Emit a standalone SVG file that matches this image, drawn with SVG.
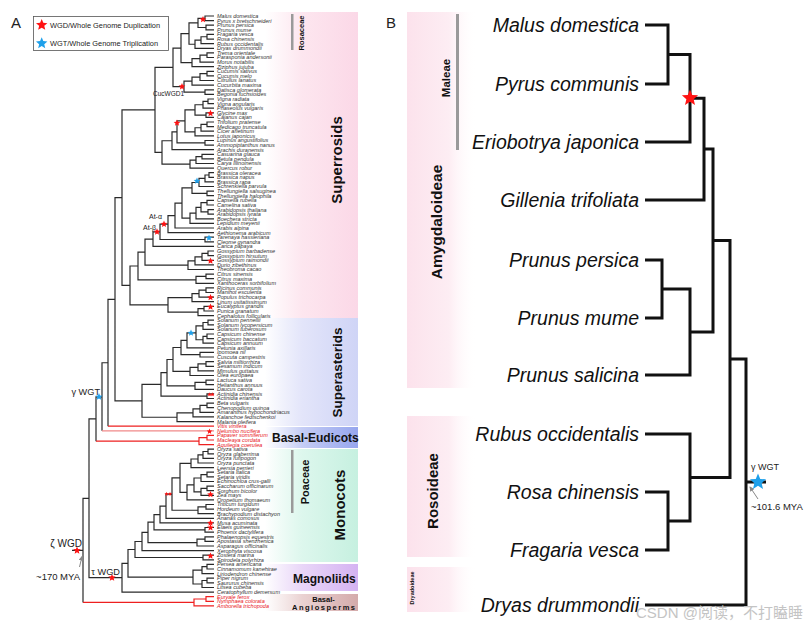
<svg xmlns="http://www.w3.org/2000/svg" width="811" height="631" viewBox="0 0 811 631">
<style>
.t{font-family:"Liberation Sans",Arial,sans-serif;font-style:italic;font-size:5.5px;fill:#333}
.tr{fill:#e8151b}
.br{fill:none;stroke:#2a2a2a;stroke-width:1.2}
.rd{fill:none;stroke:#ee2020;stroke-width:1.2}
.pk{fill:none;stroke:#f08a8a;stroke-width:1.2}
.bb{fill:none;stroke:#111;stroke-width:3}
.lab{font-family:"Liberation Sans",Arial,sans-serif;fill:#222}
.bold{font-family:"Liberation Sans",Arial,sans-serif;font-weight:bold;fill:#111}
.tb{font-family:"Liberation Sans",Arial,sans-serif;font-style:italic;font-size:19.5px;fill:#111;text-anchor:end}
.sr{fill:#ff1212}
.sb{fill:#1fa0ea}
.bar{fill:#9a9a9a}
.arr{stroke:#888;stroke-width:1;fill:none}
</style>
<defs>
<path id="st" d="M0,-1 L0.2645,-0.364 L0.951,-0.309 L0.428,0.139 L0.588,0.809 L0,0.45 L-0.588,0.809 L-0.428,0.139 L-0.951,-0.309 L-0.2645,-0.364 Z"/>
<marker id="ah" viewBox="0 0 6 6" refX="5" refY="3" markerWidth="5" markerHeight="5" orient="auto"><path d="M0,0 L6,3 L0,6 Z" fill="#888"/></marker>
<linearGradient id="gPink"><stop offset="0" stop-color="#fde6ef" stop-opacity="0"/><stop offset="0.4" stop-color="#fde6ef"/><stop offset="1" stop-color="#fbd8e7"/></linearGradient>
<linearGradient id="gLav"><stop offset="0" stop-color="#dfe2f8" stop-opacity="0"/><stop offset="0.4" stop-color="#e3e5fa"/><stop offset="1" stop-color="#cfd4f6"/></linearGradient>
<linearGradient id="gBlue"><stop offset="0" stop-color="#c8d0f6" stop-opacity="0"/><stop offset="0.4" stop-color="#c5cdf5"/><stop offset="1" stop-color="#96a6ee"/></linearGradient>
<linearGradient id="gGreen"><stop offset="0" stop-color="#d8f6ea" stop-opacity="0"/><stop offset="0.4" stop-color="#ddf7ed"/><stop offset="1" stop-color="#c6f0e0"/></linearGradient>
<linearGradient id="gPurp"><stop offset="0" stop-color="#e6d2f6" stop-opacity="0"/><stop offset="0.4" stop-color="#e9d6f8"/><stop offset="1" stop-color="#d5b3f2"/></linearGradient>
<linearGradient id="gBrown"><stop offset="0" stop-color="#ecd6d6" stop-opacity="0"/><stop offset="0.4" stop-color="#ead2d2"/><stop offset="1" stop-color="#d4abab"/></linearGradient>
<linearGradient id="gPinkB"><stop offset="0" stop-color="#fce2ec"/><stop offset="0.6" stop-color="#fdedf3"/><stop offset="1" stop-color="#ffffff" stop-opacity="0"/></linearGradient>
</defs>
<rect width="811" height="631" fill="#fff"/>

<g id="bands-A">
<rect x="265" y="12" width="93" height="306" fill="url(#gPink)"/>
<rect x="265" y="318" width="93" height="108" fill="url(#gLav)"/>
<rect x="265" y="427" width="93" height="21" fill="url(#gBlue)"/>
<rect x="265" y="449" width="93" height="113" fill="url(#gGreen)"/>
<rect x="265" y="564" width="93" height="27" fill="url(#gPurp)"/>
<rect x="265" y="594" width="93" height="17" fill="url(#gBrown)"/>
<rect class="bar" x="291" y="14" width="2.5" height="36"/>
<rect class="bar" x="291" y="450" width="2.5" height="63"/>
<text class="bold" font-size="7.5" text-anchor="middle" transform="translate(303.5,33) rotate(-90)">Rosaceae</text>
<text class="bold" font-size="11" text-anchor="middle" transform="translate(309,482) rotate(-90)">Poaceae</text>
<text class="bold" font-size="15" text-anchor="middle" transform="translate(342,160) rotate(-90)">Superrosids</text>
<text class="bold" font-size="13.5" text-anchor="middle" transform="translate(342,372.5) rotate(-90)">Superasterids</text>
<text class="bold" font-size="15" text-anchor="middle" transform="translate(345,505) rotate(-90)">Monocots</text>
<text class="bold" font-size="12" x="272" y="441.5">Basal-Eudicots</text>
<text class="bold" font-size="12" x="293" y="583">Magnoliids</text>
<text class="bold" font-size="7.5" x="323.5" y="602" text-anchor="middle">Basal-</text>
<text class="bold" font-size="7.5" x="292" y="610" textLength="63" lengthAdjust="spacing">Angiosperms</text>
</g>

<g id="bands-B">
<rect x="407" y="12" width="70" height="376" fill="url(#gPinkB)"/>
<rect x="407" y="416" width="70" height="141" fill="url(#gPinkB)"/>
<rect x="407" y="567" width="70" height="45" fill="url(#gPinkB)"/>
<rect class="bar" x="456" y="14" width="3" height="136"/>
<text class="bold" font-size="11.5" text-anchor="middle" transform="translate(450,78) rotate(-90)">Maleae</text>
<text class="bold" font-size="15.5" text-anchor="middle" transform="translate(442,222) rotate(-90)">Amygdaloideae</text>
<text class="bold" font-size="15" text-anchor="middle" transform="translate(438,491) rotate(-90)">Rosoideae</text>
<text class="bold" font-size="5.5" text-anchor="middle" transform="translate(414,588) rotate(-90)">Dryadoideae</text>
</g>

<g id="panel-labels">
<text class="lab" x="11" y="28" font-size="15">A</text>
<text class="lab" x="386" y="28" font-size="15">B</text>
</g>

<g id="legend">
<rect x="33.5" y="16.5" width="135" height="34" fill="#fff" stroke="#555" stroke-width="0.8"/>
<use href="#st" transform="translate(41.7,25) scale(6)" class="sr"/>
<text class="lab" x="50" y="27.6" font-size="7.4">WGD/Whole Genome Duplication</text>
<use href="#st" transform="translate(41.7,43.3) scale(6)" class="sb"/>
<text class="lab" x="50" y="46" font-size="7.4">WGT/Whole Genome Triplication</text>
</g>

<g id="connectors-A">
<path class="br" d="M214,16 H205 V20.6 H214 M214,25.2 H206 V29.8 H214 M205,18.3 H198 V27.5 H206 M214,34.4 H207 V39.1 H214 M207,36.75 H201 V43.7 H214 M201,40.2 H195 V48.3 H214 M198,22.9 H189 V44.25 H195 M214,52.9 H207 V57.5 H214 M207,55.2 H200 V62.1 H214 M200,58.65 H192 V66.7 H214 M189,33.6 H181 V62.7 H192 M214,71.3 H207 V75.9 H214 M207,73.6 H200 V80.5 H214 M200,77.05 H192 V85.2 H214 M214,89.8 H205 V94.4 H214 M192,81.1 H184 V92.1 H205 M181,48.1 H173 V86.6 H184"/>
<path class="br" d="M214,99 H208 V103.6 H214 M208,101.3 H203 V108.2 H214 M214,112.8 H206 V117.4 H214 M203,104.75 H195 V115.1 H206 M214,122 H207 V126.6 H214 M207,124.3 H201 V131.2 H214 M201,127.75 H195 V135.8 H214 M195,109.9 H185 V131.8 H195 M214,140.5 H205 V145.1 H214 M185,120.85 H177 V142.8 H205 M177,131.8 H172 V149.7 H214 M214,154.3 H202 V158.9 H214 M202,156.6 H196 V163.5 H214 M196,160.05 H190 V168.1 H214 M172,140.75 H162 V164.08 H190 M173,67.35 H155 V152.4 H162"/>
<path class="br" d="M214,172.7 H209 V177.3 H214 M209,175 H205 V181.9 H214 M205,178.45 H199 V186.5 H214 M214,191.1 H207 V195.7 H214 M199,182.5 H192 V193.4 H207 M214,200.4 H207 V205 H214 M214,209.6 H208 V214.2 H214 M207,202.7 H201 V211.9 H208 M201,207.3 H196 V218.8 H214 M196,213.05 H190 V223.4 H214 M192,187.95 H182 V218.2 H190 M182,203.1 H175 V228 H214 M175,215.55 H168 V232.6 H214 M214,237.2 H205 V241.8 H214 M168,224.1 H160 V239.5 H205 M160,231.8 H153 V246.4 H214 M214,251 H208 V255.7 H214 M208,253.35 H202 V260.3 H214 M202,256.8 H195 V264.9 H214 M195,260.85 H188 V269.5 H214 M153,239.1 H145 V265.2 H188 M214,274.1 H206 V278.7 H214 M206,276.4 H196 V283.3 H214 M145,252.15 H138 V279.85 H196 M214,287.9 H206 V292.5 H214 M206,290.2 H199 V297.1 H214 M199,293.65 H192 V301.7 H214 M214,306.3 H204 V311 H214 M204,308.65 H198 V315.6 H214 M192,297.7 H168 V312.1 H198 M138,266 H130 V304.9 H168 M155,109.9 H122 V285.45 H130"/>
<path class="br" d="M214,320.2 H208 V324.8 H214 M208,322.5 H203 V329.4 H214 M214,334 H207 V338.6 H214 M207,336.3 H203 V343.2 H214 M203,325.95 H196 V339.75 H203 M196,332.85 H187 V347.8 H214 M214,352.4 H200 V357 H214 M187,340.3 H181 V354.7 H200 M214,361.6 H206 V366.3 H214 M206,363.95 H198 V370.9 H214 M198,367.4 H190 V375.5 H214 M181,347.5 H173 V371.45 H190 M214,380.1 H206 V384.7 H214 M206,382.4 H195 V389.3 H214 M173,359.5 H167 V385.85 H195 M214,393.9 H207 V398.5 H214 M167,372.7 H161 V396.2 H207 M214,403.1 H207 V407.7 H214 M207,405.4 H200 V412.3 H214 M200,408.85 H193 V416.9 H214 M193,412.9 H177 V421.6 H214 M161,384.45 H142 V417.25 H177 M122,197.7 H115 V400.85 H142 M115,299.3 H108 V426.2 M108,362.75 H102 V430.8 M102,396.8 H96 V441.15"/>
<path class="rd" d="M108,426.2 H214 M96,441.15 H199 M214,435.4 H207 V440 H214 M207,437.7 H199 V444.6 H214"/>
<path class="pk" d="M102,430.8 H214"/>
<path class="br" d="M214,449.2 H208 V453.8 H214 M208,451.5 H203 V458.4 H214 M203,454.95 H198 V463 H214 M198,458.98 H191 V467.6 H214 M214,472.2 H207 V476.9 H214 M207,474.55 H201 V481.5 H214 M214,486.1 H207 V490.7 H214 M207,488.4 H201 V495.3 H214 M201,478 H194 V491.85 H201 M194,484.9 H187 V499.9 H214 M191,463.3 H180 V492.4 H187 M214,504.5 H206 V509.1 H214 M206,506.8 H198 V513.7 H214 M180,477.85 H172 V510.25 H198 M172,494.05 H166 V518.3 H214 M166,506.2 H160 V522.9 H214 M214,527.5 H205 V532.2 H214 M160,514.55 H154 V529.85 H205 M214,536.8 H205 V541.4 H214 M205,539.1 H197 V546 H214 M154,522.2 H148 V542.55 H197 M148,532.4 H142 V550.6 H214 M214,555.2 H203 V559.8 H214 M142,541.5 H135 V557.5 H203 M214,564.4 H207 V569 H214 M207,566.7 H202 V573.6 H214 M214,578.2 H207 V582.8 H214 M207,580.5 H202 V587.5 H214 M202,570.15 H193 V584 H202 M135,549.5 H128 V577.1 H193 M128,563.3 H122 V592.1 H214 M96,418.95 H89 V577.7 H122 M89,498.3 H83 V602.45 M72,550.4 H83"/>
<path class="rd" d="M83,602.45 H194 M214,596.7 H206 V601.3 H214 M206,599 H194 V605.9 H214"/>
<path class="arr" d="M79.5,567 L82,556.5" marker-end="url(#ah)"/>
</g>

<g id="events-A">
<use href="#st" transform="translate(203,19.5) scale(3.5)" class="sr"/>
<use href="#st" transform="translate(182,86.6) scale(3.5)" class="sr"/>
<use href="#st" transform="translate(210.5,113.3) scale(3.5)" class="sr"/>
<use href="#st" transform="translate(177,123) scale(3.5)" class="sr"/>
<use href="#st" transform="translate(197,181) scale(3.5)" class="sb"/>
<use href="#st" transform="translate(164,224.1) scale(3.5)" class="sr"/>
<use href="#st" transform="translate(157,231.8) scale(3.5)" class="sr"/>
<use href="#st" transform="translate(209,238) scale(3.5)" class="sb"/>
<use href="#st" transform="translate(210.5,261) scale(3.5)" class="sr"/>
<use href="#st" transform="translate(210.5,297.5) scale(3.5)" class="sr"/>
<use href="#st" transform="translate(210.5,307) scale(3.5)" class="sr"/>
<use href="#st" transform="translate(191,333) scale(3.5)" class="sb"/>
<use href="#st" transform="translate(209.5,394.5) scale(2.3)" class="sr"/>
<use href="#st" transform="translate(212.5,394.5) scale(2.3)" class="sr"/>
<use href="#st" transform="translate(209.5,431.5) scale(3)" class="sr"/>
<use href="#st" transform="translate(210.5,494.5) scale(3.5)" class="sr"/>
<use href="#st" transform="translate(166.5,494) scale(2.2)" class="sr"/>
<use href="#st" transform="translate(170,494) scale(2.2)" class="sr"/>
<use href="#st" transform="translate(210.5,523) scale(3.5)" class="sr"/>
<use href="#st" transform="translate(210.5,527.7) scale(3.5)" class="sr"/>
<use href="#st" transform="translate(210.5,556) scale(3.5)" class="sr"/>
<use href="#st" transform="translate(112,577.7) scale(3.8)" class="sr"/>
<use href="#st" transform="translate(77,550.4) scale(4)" class="sr"/>
<use href="#st" transform="translate(99,396.8) scale(3.8)" class="sb"/>
<text class="lab" x="184" y="96" font-size="6.5" text-anchor="end">CucWGD1</text>
<text class="lab" x="162" y="219" font-size="7" text-anchor="end">At-α</text>
<text class="lab" x="156" y="230" font-size="7" text-anchor="end">At-β</text>
<text class="lab" x="100" y="394.5" font-size="9.2" text-anchor="end">γ WGT</text>
<text class="lab" x="82" y="547" font-size="10" text-anchor="end">ζ WGD</text>
<text class="lab" x="80" y="579.5" font-size="9.5" text-anchor="end">~170 MYA</text>
<text class="lab" x="120" y="574.5" font-size="9.2" text-anchor="end">τ WGD</text>
</g>

<g id="leaves-A">
<text class="t" x="217" y="17.9">Malus domestica</text>
<text class="t" x="217" y="22.5">Pyrus x bretschneideri</text>
<text class="t" x="217" y="27.1">Prunus persica</text>
<text class="t" x="217" y="31.7">Prunus mume</text>
<text class="t" x="217" y="36.3">Fragaria vesca</text>
<text class="t" x="217" y="41.0">Rosa chinensis</text>
<text class="t" x="217" y="45.6">Rubus occidentalis</text>
<text class="t" x="217" y="50.2">Dryas drummondii</text>
<text class="t" x="217" y="54.8">Trema orientale</text>
<text class="t" x="217" y="59.4">Parasponia andersonii</text>
<text class="t" x="217" y="64.0">Morus notabilis</text>
<text class="t" x="217" y="68.6">Ziziphus jujuba</text>
<text class="t" x="217" y="73.2">Cucumis sativus</text>
<text class="t" x="217" y="77.8">Cucumis melo</text>
<text class="t" x="217" y="82.4">Citrullus lanatus</text>
<text class="t" x="217" y="87.1">Cucurbita maxima</text>
<text class="t" x="217" y="91.7">Datisca glomerata</text>
<text class="t" x="217" y="96.3">Begonia fuchsioides</text>
<text class="t" x="217" y="100.9">Vigna radiata</text>
<text class="t" x="217" y="105.5">Vigna angularis</text>
<text class="t" x="217" y="110.1">Phaseolus vulgaris</text>
<text class="t" x="217" y="114.7">Glycine max</text>
<text class="t" x="217" y="119.3">Cajanus cajan</text>
<text class="t" x="217" y="123.9">Trifolium pratense</text>
<text class="t" x="217" y="128.5">Medicago truncatula</text>
<text class="t" x="217" y="133.1">Cicer arietinum</text>
<text class="t" x="217" y="137.7">Lotus japonicus</text>
<text class="t" x="217" y="142.4">Lupinus angustifolius</text>
<text class="t" x="217" y="147.0">Ammopiptanthus nanus</text>
<text class="t" x="217" y="151.6">Arachis duranensis</text>
<text class="t" x="217" y="156.2">Casuarina glauca</text>
<text class="t" x="217" y="160.8">Betula pendula</text>
<text class="t" x="217" y="165.4">Carya illinoinensis</text>
<text class="t" x="217" y="170.0">Quercus robur</text>
<text class="t" x="217" y="174.6">Brassica oleracea</text>
<text class="t" x="217" y="179.2">Brassica napus</text>
<text class="t" x="217" y="183.8">Brassica rapa</text>
<text class="t" x="217" y="188.4">Schrenkiella parvula</text>
<text class="t" x="217" y="193.0">Thellungiella salsuginea</text>
<text class="t" x="217" y="197.6">Thellungiella halophila</text>
<text class="t" x="217" y="202.3">Capsella rubella</text>
<text class="t" x="217" y="206.9">Camelina sativa</text>
<text class="t" x="217" y="211.5">Arabidopsis thaliana</text>
<text class="t" x="217" y="216.1">Arabidopsis lyrata</text>
<text class="t" x="217" y="220.7">Boechera stricta</text>
<text class="t" x="217" y="225.3">Lepidium meyenii</text>
<text class="t" x="217" y="229.9">Arabis alpina</text>
<text class="t" x="217" y="234.5">Aethionema arabicum</text>
<text class="t" x="217" y="239.1">Tarenaya hassleriana</text>
<text class="t" x="217" y="243.7">Cleome gynandra</text>
<text class="t" x="217" y="248.3">Carica papaya</text>
<text class="t" x="217" y="252.9">Gossypium barbadense</text>
<text class="t" x="217" y="257.6">Gossypium hirsutum</text>
<text class="t" x="217" y="262.2">Gossypium raimondii</text>
<text class="t" x="217" y="266.8">Durio zibethinus</text>
<text class="t" x="217" y="271.4">Theobroma cacao</text>
<text class="t" x="217" y="276.0">Citrus sinensis</text>
<text class="t" x="217" y="280.6">Citrus maxima</text>
<text class="t" x="217" y="285.2">Xanthoceras sorbifolium</text>
<text class="t" x="217" y="289.8">Ricinus communis</text>
<text class="t" x="217" y="294.4">Manihot esculenta</text>
<text class="t" x="217" y="299.0">Populus trichocarpa</text>
<text class="t" x="217" y="303.6">Linum usitatissimum</text>
<text class="t" x="217" y="308.2">Eucalyptus grandis</text>
<text class="t" x="217" y="312.9">Punica granatum</text>
<text class="t" x="217" y="317.5">Cephalotus follicularis</text>
<text class="t" x="217" y="322.1">Solanum pennellii</text>
<text class="t" x="217" y="326.7">Solanum lycopersicum</text>
<text class="t" x="217" y="331.3">Solanum tuberosum</text>
<text class="t" x="217" y="335.9">Capsicum chinense</text>
<text class="t" x="217" y="340.5">Capsicum baccatum</text>
<text class="t" x="217" y="345.1">Capsicum annuum</text>
<text class="t" x="217" y="349.7">Petunia axillaris</text>
<text class="t" x="217" y="354.3">Ipomoea nil</text>
<text class="t" x="217" y="358.9">Cuscuta campestris</text>
<text class="t" x="217" y="363.5">Salvia miltiorrhiza</text>
<text class="t" x="217" y="368.2">Sesamum indicum</text>
<text class="t" x="217" y="372.8">Mimulus guttatus</text>
<text class="t" x="217" y="377.4">Olea europaea</text>
<text class="t" x="217" y="382.0">Lactuca sativa</text>
<text class="t" x="217" y="386.6">Helianthus annuus</text>
<text class="t" x="217" y="391.2">Daucus carota</text>
<text class="t" x="217" y="395.8">Actinidia chinensis</text>
<text class="t" x="217" y="400.4">Actinidia eriantha</text>
<text class="t" x="217" y="405.0">Beta vulgaris</text>
<text class="t" x="217" y="409.6">Chenopodium quinoa</text>
<text class="t" x="217" y="414.2">Amaranthus hypochondriacus</text>
<text class="t" x="217" y="418.8">Kalanchoe fedtschenkoi</text>
<text class="t" x="217" y="423.5">Malania oleifera</text>
<text class="t tr" x="217" y="428.1">Vitis vinifera</text>
<text class="t tr" x="217" y="432.7">Nelumbo nucifera</text>
<text class="t tr" x="217" y="437.3">Papaver somniferum</text>
<text class="t tr" x="217" y="441.9">Macleaya cordata</text>
<text class="t tr" x="217" y="446.5">Aquilegia coerulea</text>
<text class="t" x="217" y="451.1">Oryza sativa</text>
<text class="t" x="217" y="455.7">Oryza glaberrima</text>
<text class="t" x="217" y="460.3">Oryza rufipogon</text>
<text class="t" x="217" y="464.9">Oryza punctata</text>
<text class="t" x="217" y="469.5">Leersia perrieri</text>
<text class="t" x="217" y="474.1">Setaria italica</text>
<text class="t" x="217" y="478.8">Setaria viridis</text>
<text class="t" x="217" y="483.4">Echinochloa crus-galli</text>
<text class="t" x="217" y="488.0">Saccharum officinarum</text>
<text class="t" x="217" y="492.6">Sorghum bicolor</text>
<text class="t" x="217" y="497.2">Zea mays</text>
<text class="t" x="217" y="501.8">Oropetium thomaeum</text>
<text class="t" x="217" y="506.4">Triticum turgidum</text>
<text class="t" x="217" y="511.0">Hordeum vulgare</text>
<text class="t" x="217" y="515.6">Brachypodium distachyon</text>
<text class="t" x="217" y="520.2">Ananas comosus</text>
<text class="t" x="217" y="524.8">Musa acuminata</text>
<text class="t" x="217" y="529.4">Elaeis guineensis</text>
<text class="t" x="217" y="534.1">Phoenix dactylifera</text>
<text class="t" x="217" y="538.7">Phalaenopsis equestris</text>
<text class="t" x="217" y="543.3">Apostasia shenzhenica</text>
<text class="t" x="217" y="547.9">Asparagus officinalis</text>
<text class="t" x="217" y="552.5">Xerophyta viscosa</text>
<text class="t" x="217" y="557.1">Zostera marina</text>
<text class="t" x="217" y="561.7">Spirodela polyrhiza</text>
<text class="t" x="217" y="566.3">Persea americana</text>
<text class="t" x="217" y="570.9">Cinnamomum kanehirae</text>
<text class="t" x="217" y="575.5">Liriodendron chinense</text>
<text class="t" x="217" y="580.1">Piper nigrum</text>
<text class="t" x="217" y="584.7">Saururus chinensis</text>
<text class="t" x="217" y="589.4">Litsea cubeba</text>
<text class="t" x="217" y="594.0">Ceratophyllum demersum</text>
<text class="t tr" x="217" y="598.6">Euryale ferox</text>
<text class="t tr" x="217" y="603.2">Nymphaea colorata</text>
<text class="t tr" x="217" y="607.8">Amborella trichopoda</text>
</g>

<g id="connectors-B">
<path class="bb" d="M645,25 H668 V84 H645 M668,54.5 H690 V142 H645 M690,98.25 H704 V200 H645 M645,260 H662 V318 H645 M662,289 H690 V375 H645 M704,149.1 H713 V332 H690 M645,492 H668 V550 H645 M668,521 H690 V434 H645 M713,240.5 H730 V477.5 H690 M730,359 H746 V605 H645 M746,482 H766"/>
<path class="arr" d="M758,499 L750,487" marker-end="url(#ah)"/>
</g>

<g id="node-malus"><text class="tb" x="639" y="32">Malus domestica</text></g>
<g id="node-pyrus"><text class="tb" x="639" y="91">Pyrus communis</text></g>
<g id="node-eriobotrya"><text class="tb" x="639" y="149">Eriobotrya japonica</text></g>
<g id="node-gillenia"><text class="tb" x="639" y="207">Gillenia trifoliata</text></g>
<g id="node-ppersica"><text class="tb" x="639" y="267">Prunus persica</text></g>
<g id="node-pmume"><text class="tb" x="639" y="325">Prunus mume</text></g>
<g id="node-psalicina"><text class="tb" x="639" y="382">Prunus salicina</text></g>
<g id="node-rubus"><text class="tb" x="639" y="441">Rubus occidentalis</text></g>
<g id="node-rosa"><text class="tb" x="639" y="499">Rosa chinensis</text></g>
<g id="node-fragaria"><text class="tb" x="639" y="557">Fragaria vesca</text></g>
<g id="node-dryas"><text class="tb" x="639" y="612">Dryas drummondii</text></g>

<g id="events-B">
<use href="#st" transform="translate(690,98) scale(8.5)" class="sr"/>
<use href="#st" transform="translate(758,482) scale(8.5)" class="sb"/>
<text class="lab" x="751" y="470" font-size="9">γ WGT</text>
<text class="lab" x="751" y="510" font-size="9.5">~101.6 MYA</text>
</g>

<g id="watermark">
<text x="636" y="618" font-family="Liberation Sans, Noto Sans CJK SC, sans-serif" font-size="15" fill="#c4c4c4">CSDN @阅读，不打瞌睡</text>
</g>
</svg>
